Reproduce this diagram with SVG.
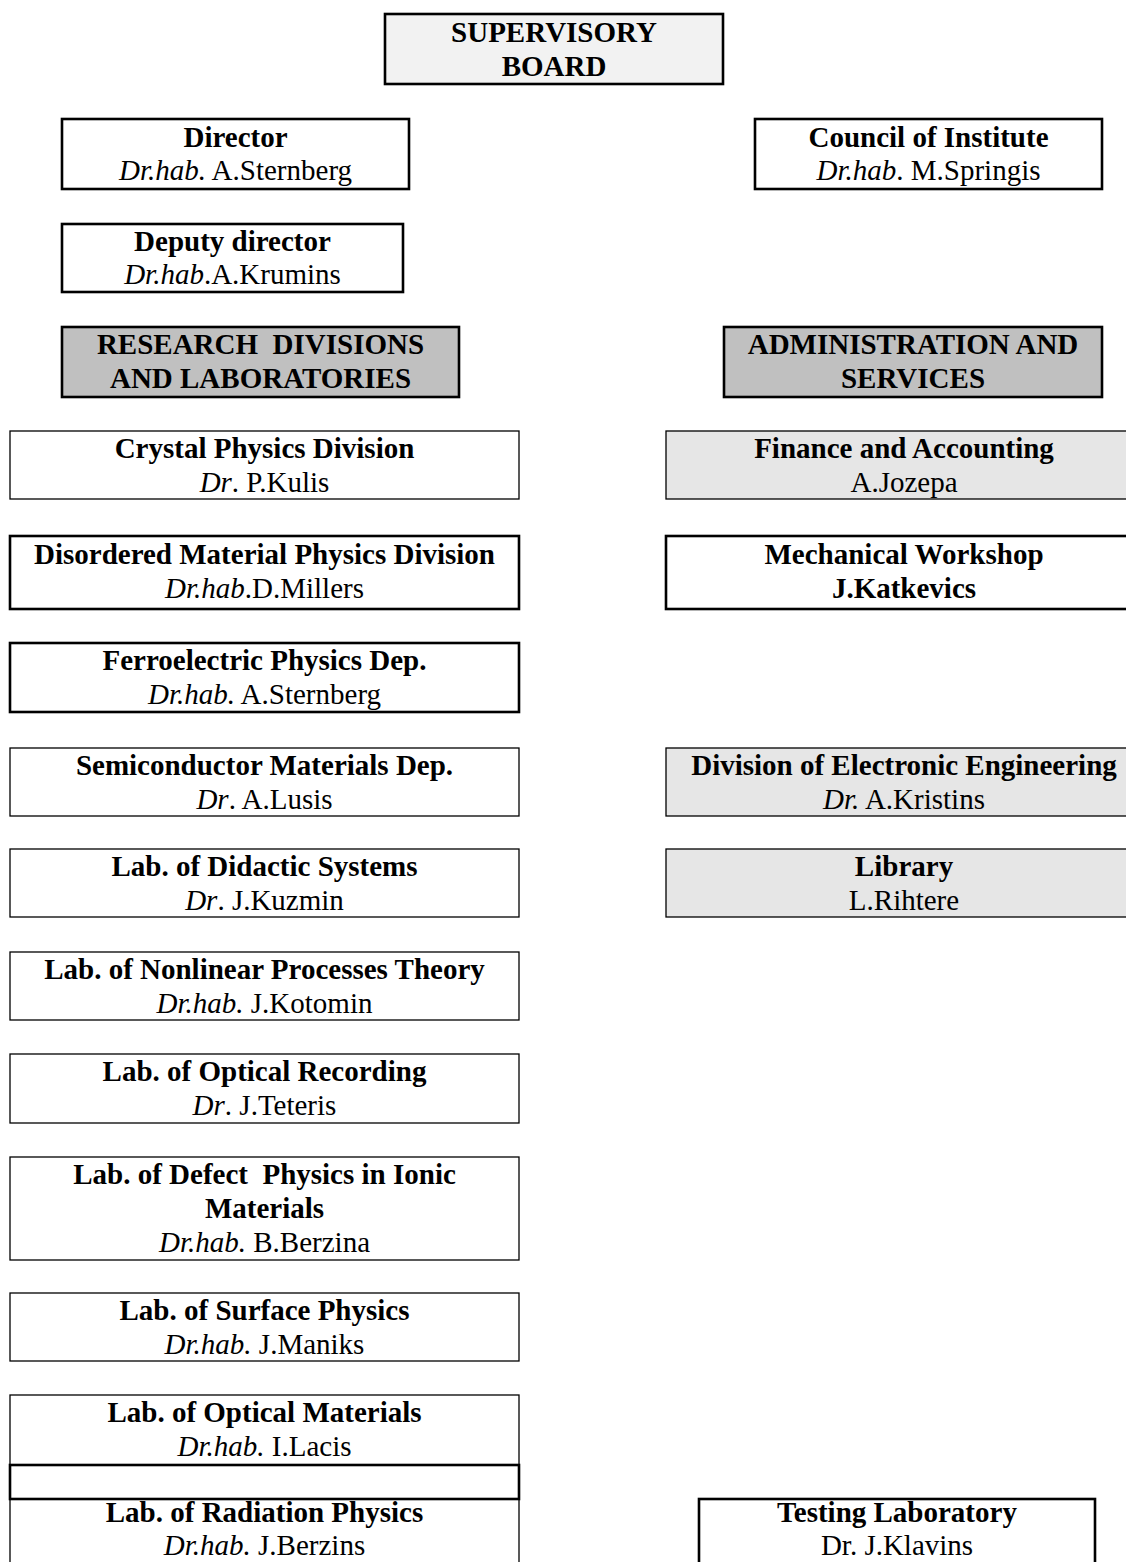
<svg xmlns="http://www.w3.org/2000/svg" width="1126" height="1562" viewBox="0 0 1126 1562">
<style>
text{font-family:"Liberation Serif","Times New Roman",serif;font-size:29px;fill:#000;text-anchor:middle;white-space:pre}
.b{font-weight:bold}
.i{font-style:italic}
.box{stroke:#000}
.thin{stroke-width:1.3}
.thick{stroke-width:2.6}
.w{fill:#fff}
.g1{fill:#f2f2f2}
.g2{fill:#c0c0c0}
.g3{fill:#e6e6e6}
</style>
<rect x="0" y="0" width="1126" height="1562" fill="#fff" stroke="none"/>
<g id="connectors"/>
<g id="supervisory">
<rect class="box g1 thick" x="385" y="14" width="338" height="70"/>
<text class="b" x="554" y="42">SUPERVISORY</text>
<text class="b" x="554" y="76">BOARD</text>
</g>
<g id="director">
<rect class="box w thick" x="62" y="119" width="347" height="70"/>
<text class="b" x="235.5" y="147">Director</text>
<text x="235.5" y="180"><tspan class="i">Dr.hab.</tspan> A.Sternberg</text>
</g>
<g id="council">
<rect class="box w thick" x="755" y="119" width="347" height="70"/>
<text class="b" x="928.5" y="147">Council of Institute</text>
<text x="928.5" y="180"><tspan class="i">Dr.hab</tspan>. M.Springis</text>
</g>
<g id="deputy">
<rect class="box w thick" x="62" y="224" width="341" height="68"/>
<text class="b" x="232.5" y="251">Deputy director</text>
<text x="232.5" y="284"><tspan class="i">Dr.hab</tspan>.A.Krumins</text>
</g>
<g id="research">
<rect class="box g2 thick" x="62" y="327" width="397" height="70"/>
<text class="b" x="260.5" y="354">RESEARCH  DIVISIONS</text>
<text class="b" x="260.5" y="388">AND LABORATORIES</text>
</g>
<g id="admin">
<rect class="box g2 thick" x="724" y="327" width="378" height="70"/>
<text class="b" x="913" y="354">ADMINISTRATION AND</text>
<text class="b" x="913" y="388">SERVICES</text>
</g>
<g id="crystal">
<rect class="box w thin" x="10" y="431" width="509" height="68"/>
<text class="b" x="264.5" y="458">Crystal Physics Division</text>
<text x="264.5" y="492"><tspan class="i">Dr</tspan>. P.Kulis</text>
</g>
<g id="finance">
<rect class="box g3 thin" x="666" y="431" width="478" height="68"/>
<text class="b" x="904" y="458">Finance and Accounting</text>
<text x="904" y="492">A.Jozepa</text>
</g>
<g id="disordered">
<rect class="box w thick" x="10" y="536" width="509" height="73"/>
<text class="b" x="264.5" y="564">Disordered Material Physics Division</text>
<text x="264.5" y="598"><tspan class="i">Dr.hab</tspan>.D.Millers</text>
</g>
<g id="mechanical">
<rect class="box w thick" x="666" y="536" width="478" height="73"/>
<text class="b" x="904" y="564">Mechanical Workshop</text>
<text class="b" x="904" y="598">J.Katkevics</text>
</g>
<g id="ferroelectric">
<rect class="box w thick" x="10" y="643" width="509" height="69"/>
<text class="b" x="264.5" y="670">Ferroelectric Physics Dep.</text>
<text x="264.5" y="704"><tspan class="i">Dr.hab.</tspan> A.Sternberg</text>
</g>
<g id="semiconductor">
<rect class="box w thin" x="10" y="748" width="509" height="68"/>
<text class="b" x="264.5" y="775">Semiconductor Materials Dep.</text>
<text x="264.5" y="809"><tspan class="i">Dr</tspan>. A.Lusis</text>
</g>
<g id="electronic">
<rect class="box g3 thin" x="666" y="748" width="478" height="68"/>
<text class="b" x="904" y="775">Division of Electronic Engineering</text>
<text x="904" y="809"><tspan class="i">Dr.</tspan> A.Kristins</text>
</g>
<g id="didactic">
<rect class="box w thin" x="10" y="849" width="509" height="68"/>
<text class="b" x="264.5" y="876">Lab. of Didactic Systems</text>
<text x="264.5" y="910"><tspan class="i">Dr</tspan>. J.Kuzmin</text>
</g>
<g id="library">
<rect class="box g3 thin" x="666" y="849" width="478" height="68"/>
<text class="b" x="904" y="876">Library</text>
<text x="904" y="910">L.Rihtere</text>
</g>
<g id="nonlinear">
<rect class="box w thin" x="10" y="952" width="509" height="68"/>
<text class="b" x="264.5" y="979">Lab. of Nonlinear Processes Theory</text>
<text x="264.5" y="1013"><tspan class="i">Dr.hab.</tspan> J.Kotomin</text>
</g>
<g id="optical-recording">
<rect class="box w thin" x="10" y="1054" width="509" height="69"/>
<text class="b" x="264.5" y="1081">Lab. of Optical Recording</text>
<text x="264.5" y="1115"><tspan class="i">Dr</tspan>. J.Teteris</text>
</g>
<g id="defect">
<rect class="box w thin" x="10" y="1157" width="509" height="103"/>
<text class="b" x="264.5" y="1184">Lab. of Defect  Physics in Ionic</text>
<text class="b" x="264.5" y="1218">Materials</text>
<text x="264.5" y="1252"><tspan class="i">Dr.hab.</tspan> B.Berzina</text>
</g>
<g id="surface">
<rect class="box w thin" x="10" y="1293" width="509" height="68"/>
<text class="b" x="264.5" y="1320">Lab. of Surface Physics</text>
<text x="264.5" y="1354"><tspan class="i">Dr.hab.</tspan> J.Maniks</text>
</g>
<g id="optical-materials">
<rect class="box w thin" x="10" y="1395" width="509" height="70"/>
<text class="b" x="264.5" y="1422">Lab. of Optical Materials</text>
<text x="264.5" y="1456"><tspan class="i">Dr.hab.</tspan> I.Lacis</text>
</g>
<g id="radiation">
<rect class="box w thin" x="10" y="1499" width="509" height="80"/>
<text class="b" x="264.5" y="1522">Lab. of Radiation Physics</text>
<text x="264.5" y="1555"><tspan class="i">Dr.hab.</tspan> J.Berzins</text>
</g>
<g id="blank-box">
<rect class="box w thick" x="10" y="1465" width="509" height="34"/>
</g>
<g id="testing">
<rect class="box w thick" x="699" y="1499" width="396" height="80"/>
<text class="b" x="897" y="1522">Testing Laboratory</text>
<text x="897" y="1555">Dr. J.Klavins</text>
</g>
</svg>
